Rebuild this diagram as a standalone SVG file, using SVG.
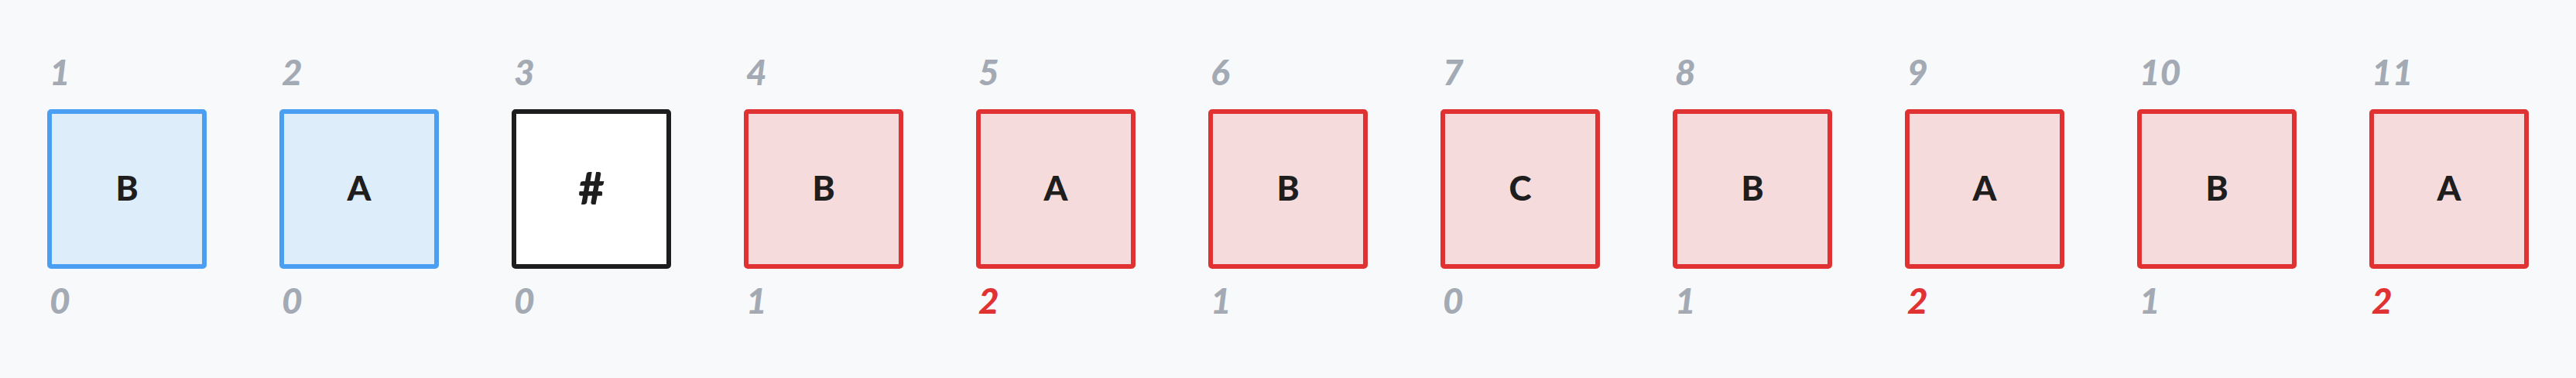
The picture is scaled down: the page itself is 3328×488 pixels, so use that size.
<svg xmlns="http://www.w3.org/2000/svg" width="3328" height="488" viewBox="0 0 3328 488">
<style>
.blue rect{fill:#deedfa;stroke:#4a9ff2;stroke-width:6}
.red rect{fill:#f6dbdc;stroke:#e03232;stroke-width:6}
.sep rect{fill:#ffffff;stroke:#1e1e1e;stroke-width:6}
.ch{font-family:"Lato","Liberation Sans",sans-serif;font-weight:900;font-size:44px;fill:#1e1e1e;text-anchor:middle}
.big{font-size:58px}
.idx{font-family:"Lato","Liberation Sans",sans-serif;font-weight:900;font-style:italic;font-size:46px;fill:#a3aab4}
.hot{fill:#e03232}
</style>
<rect x="0" y="0" width="3328" height="488" fill="#f8f9fb"/>
<g id="n1" class="blue"><rect x="64" y="144" width="200" height="200" rx="2"/><text class="ch" x="164" y="259">B</text><text class="idx" x="64" y="110">1</text><text class="idx" x="64" y="405">0</text></g>
<g id="n2" class="blue"><rect x="364" y="144" width="200" height="200" rx="2"/><text class="ch" x="464" y="259">A</text><text class="idx" x="364" y="110">2</text><text class="idx" x="364" y="405">0</text></g>
<g id="n3" class="sep"><rect x="664" y="144" width="200" height="200" rx="2"/><text class="ch big" x="764" y="264">#</text><text class="idx" x="664" y="110">3</text><text class="idx" x="664" y="405">0</text></g>
<g id="n4" class="red"><rect x="964" y="144" width="200" height="200" rx="2"/><text class="ch" x="1064" y="259">B</text><text class="idx" x="964" y="110">4</text><text class="idx" x="964" y="405">1</text></g>
<g id="n5" class="red"><rect x="1264" y="144" width="200" height="200" rx="2"/><text class="ch" x="1364" y="259">A</text><text class="idx" x="1264" y="110">5</text><text class="idx hot" x="1264" y="405">2</text></g>
<g id="n6" class="red"><rect x="1564" y="144" width="200" height="200" rx="2"/><text class="ch" x="1664" y="259">B</text><text class="idx" x="1564" y="110">6</text><text class="idx" x="1564" y="405">1</text></g>
<g id="n7" class="red"><rect x="1864" y="144" width="200" height="200" rx="2"/><text class="ch" x="1964" y="259">C</text><text class="idx" x="1864" y="110">7</text><text class="idx" x="1864" y="405">0</text></g>
<g id="n8" class="red"><rect x="2164" y="144" width="200" height="200" rx="2"/><text class="ch" x="2264" y="259">B</text><text class="idx" x="2164" y="110">8</text><text class="idx" x="2164" y="405">1</text></g>
<g id="n9" class="red"><rect x="2464" y="144" width="200" height="200" rx="2"/><text class="ch" x="2564" y="259">A</text><text class="idx" x="2464" y="110">9</text><text class="idx hot" x="2464" y="405">2</text></g>
<g id="n10" class="red"><rect x="2764" y="144" width="200" height="200" rx="2"/><text class="ch" x="2864" y="259">B</text><text class="idx" x="2764" y="110">10</text><text class="idx" x="2764" y="405">1</text></g>
<g id="n11" class="red"><rect x="3064" y="144" width="200" height="200" rx="2"/><text class="ch" x="3164" y="259">A</text><text class="idx" x="3064" y="110">11</text><text class="idx hot" x="3064" y="405">2</text></g>
<g id="connectors"/>
</svg>
